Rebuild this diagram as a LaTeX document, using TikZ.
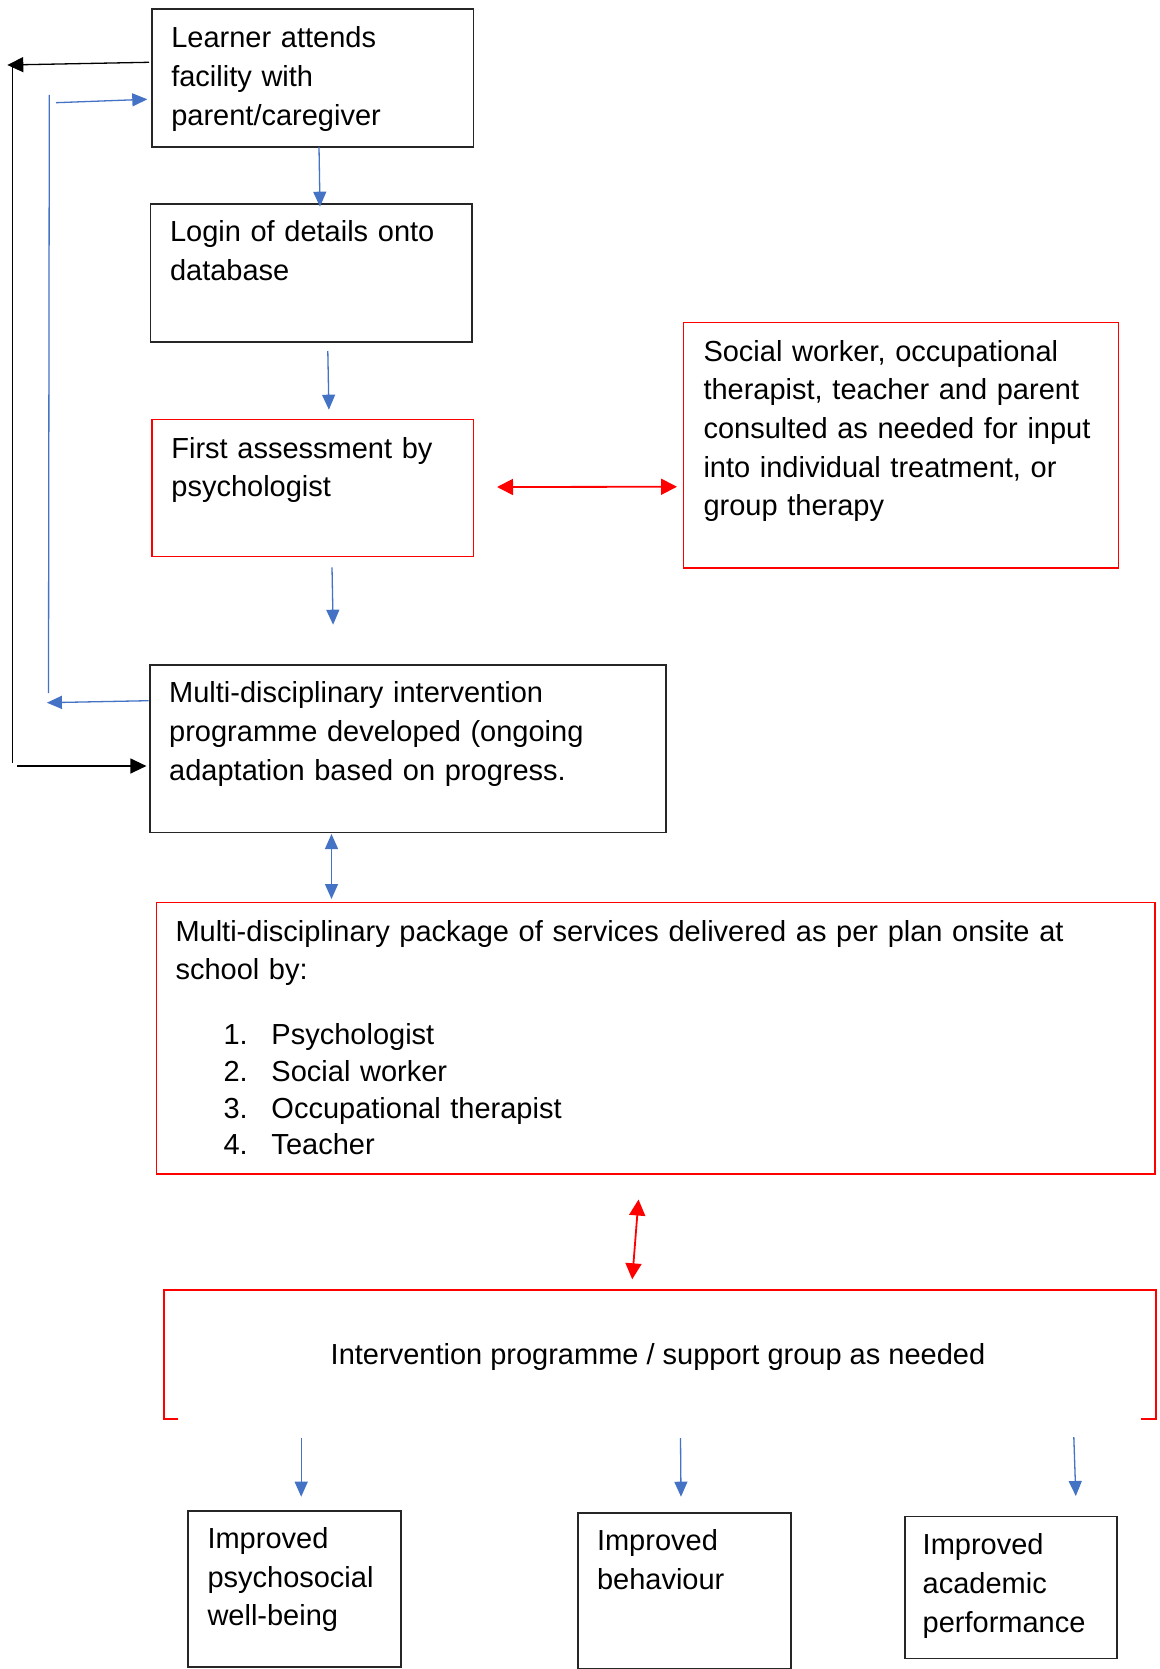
\documentclass[tikz,border=0pt]{standalone}
\usepackage{fontspec}
\setmainfont{Liberation Sans}
\usetikzlibrary{arrows.meta,calc}
\definecolor{flowblue}{HTML}{4472C4}
\definecolor{flowred}{HTML}{FF0000}

\begin{document}
\begin{tikzpicture}[x=1pt,y=-1pt,
  frame/.style={draw=#1,line width=1.4pt,inner sep=0pt,outer sep=0pt,anchor=north west},
  blackbox/.style={frame=black!85},
  redbox/.style={frame=flowred},
  label/.style={inner sep=0pt,outer sep=0pt,anchor=base west,align=left,text width=#1,
    font=\fontsize{29}{38.7}\selectfont},
  bluearrow/.style={draw=flowblue,line width=1.3pt,-{Triangle[length=15pt,width=13pt]}},
  bluetwo/.style={draw=flowblue,line width=1.3pt,{Triangle[length=15pt,width=13pt]}-{Triangle[length=15pt,width=13pt]}},
  redtwo/.style={draw=flowred,line width=1.8pt,{Triangle[length=16pt,width=16pt]}-{Triangle[length=16pt,width=16pt]}},
  blackarrow/.style={draw=black,line width=1.3pt,-{Triangle[length=16pt,width=15pt]}},
]
\useasboundingbox (0,0) rectangle (1159,1669);
\fill[white] (0,0) rectangle (1159,1669);

% boxes of the flow
\node[blackbox,minimum width=321.5pt,minimum height=138pt] (b1) at (152,9) {};
\node[blackbox,minimum width=321.5pt,minimum height=138pt] (b2) at (150.5,204) {};
\node[redbox,minimum width=321.5pt,minimum height=137pt] (b3) at (152,419.5) {};
\node[redbox,minimum width=435pt,minimum height=245.5pt] (bs) at (683.5,322.5) {};
\node[blackbox,minimum width=516pt,minimum height=167.5pt] (b4) at (150,665) {};
\node[redbox,minimum width=998.5pt,minimum height=271.5pt] (b5) at (156.5,902.5) {};
\node[inner sep=0pt,outer sep=0pt,anchor=north west,minimum width=992pt,minimum height=129pt] (b6) at (164,1290) {};
\node[blackbox,minimum width=213pt,minimum height=156pt] (o1) at (188,1511) {};
\node[blackbox,minimum width=213pt,minimum height=155.5pt] (o2) at (578,1513) {};
\node[blackbox,minimum width=212pt,minimum height=142pt] (o3) at (905,1516.5) {};

% open-bottomed frame round the intervention programme
\draw[flowred,line width=1.4pt] ($(b6.south west)+(14,0)$) -- (b6.south west) -- (b6.north west)
  -- (b6.north east) -- (b6.south east) -- ++(-15,0);

% texts
\node[label=300pt] (t1) at ($(b1.north west)+(19.3,39)$) {Learner attends\\facility with\\parent/caregiver};
\node[label=300pt] (t2) at ($(b2.north west)+(19.5,38)$) {Login of details onto\\database};
\node[label=300pt] (t3) at ($(b3.north west)+(19.4,38.5)$) {First assessment by\\psychologist};
\node[label=420pt] (ts) at ($(bs.north west)+(20,38.5)$) {Social worker, occupational\\therapist, teacher and parent\\consulted as needed for input\\into individual treatment, or\\group therapy};
\node[label=480pt] (t4) at ($(b4.north west)+(19.2,37.6)$) {Multi-disciplinary intervention\\programme developed (ongoing\\adaptation based on progress.};
\node[label=960pt] (t5) at ($(b5.north west)+(19,38.5)$) {Multi-disciplinary package of services delivered as per plan onsite at\\school by:};
\node[inner sep=0pt,outer sep=0pt,anchor=base west,align=left,text width=500pt,
  font=\fontsize{29}{36.8}\selectfont] (tl) at ($(b5.north west)+(67,142)$)
  {\makebox[48pt][l]{1.}Psychologist\\\makebox[48pt][l]{2.}Social worker\\\makebox[48pt][l]{3.}Occupational therapist\\\makebox[48pt][l]{4.}Teacher};
\node[inner sep=0pt,anchor=base,font=\fontsize{29}{38.7}\selectfont] (t6) at ($(b6.north)+(-2,74)$) {Intervention programme / support group as needed};
\node[label=200pt] (to1) at ($(o1.north west)+(19.5,37.5)$) {Improved\\psychosocial\\well-being};
\node[label=200pt] (to2) at ($(o2.north west)+(19,37.6)$) {Improved\\behaviour};
\node[label=200pt] (to3) at ($(o3.north west)+(17.7,38.3)$) {Improved\\academic\\performance};

% main flow connectors
\draw[bluearrow] ($(b1.south west)+(167,0)$) -- ($(b2.north west)+(169.5,2.7)$);
\draw[bluearrow] ($(b2.south west)+(177.3,9)$) -- ($(b3.north west)+(176.9,-9.8)$);
\draw[bluearrow] ($(b3.south west)+(180,10.8)$) -- ($(b4.north west)+(183.1,-40.3)$);
\draw[redtwo] ($(b3.east)+(23.5,-1)$) -- ($(bs.west)+(-6.5,41.5)$);
\draw[bluetwo] ($(b4.south west)+(181.5,1.5)$) -- ($(b5.north west)+(175,-3.5)$);
\draw[redtwo] ($(b5.south west)+(482,25.5)$) -- ($(b6.north west)+(468.2,-10.7)$);

% outcome connectors
\draw[bluearrow] ($(b6.south west)+(137.2,19)$) -- ($(o1.north west)+(113.2,-14.3)$);
\draw[bluearrow] ($(b6.south west)+(516.5,19)$) -- ($(o2.north west)+(103,-16.3)$);
\draw[bluearrow] ($(b6.south west)+(909.8,18)$) -- ($(o3.north west)+(170.8,-20.5)$);

% feedback loops on the left
\coordinate (kt) at (7.3,65);
\coordinate (kb) at (12.5,763);
\draw[blackarrow] ($(b1.north west)+(-3,53.3)$) -- (kt);
\draw[black,line width=1.3pt] (12.5,64) -- (kb);
\draw[blackarrow] (17,766) -- ($(b4.north west)+(-3.6,101)$);

\coordinate (lt) at (49.3,95);
\coordinate (lb) at (48.5,693);
\draw[flowblue,line width=1.3pt] (lt) -- (lb);
\draw[bluearrow] ($(b4.north west)+(-1.3,35.7)$) -- (46.9,702.7);
\draw[bluearrow] (56,102.7) -- ($(b1.north west)+(-4.7,90.3)$);
\end{tikzpicture}
\end{document}
